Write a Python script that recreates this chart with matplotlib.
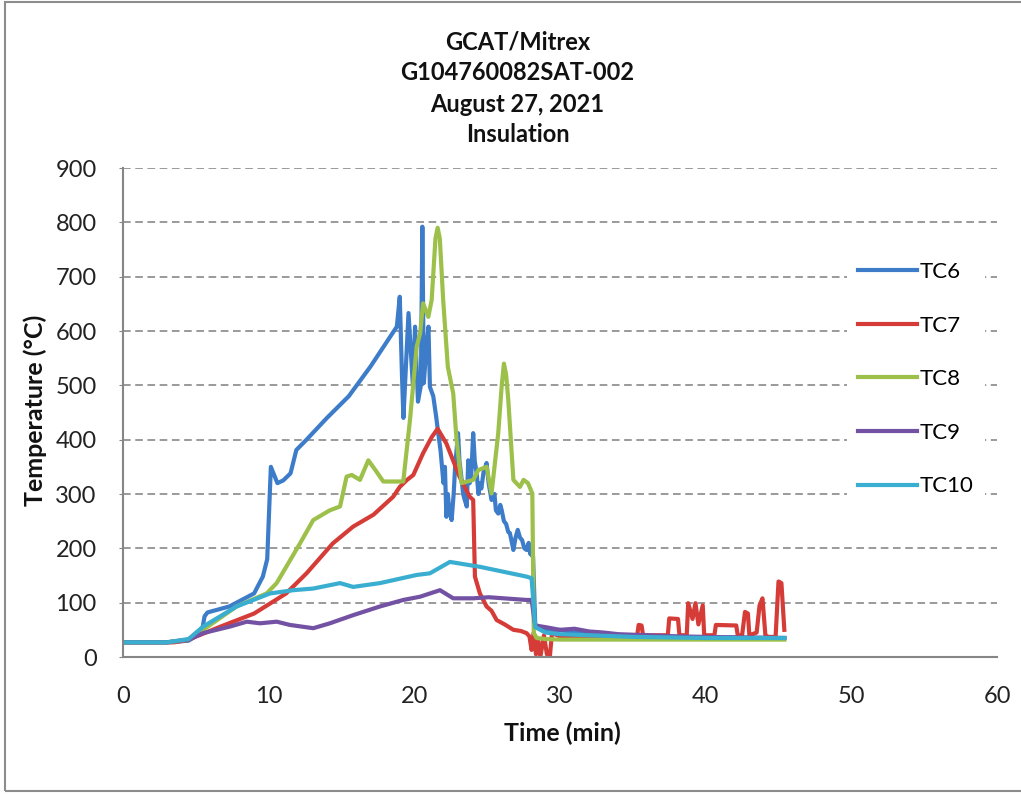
import matplotlib
matplotlib.use("Agg")
import matplotlib.pyplot as plt
from matplotlib.patches import Rectangle

plt.rcParams['font.family'] = ['Lato', 'DejaVu Sans']

# TC6
t6 = [0, 3, 4.5, 5.4, 5.6, 5.8, 7.3, 9.0, 9.6, 9.9, 10.15, 10.3, 10.6, 11.0, 11.5,
      11.9, 12.6, 14, 15.5, 17, 18.8, 19.0, 19.15, 19.25, 19.6, 19.9, 20.05, 20.25,
      20.45, 20.55, 20.65, 20.8, 20.97, 21.07, 21.3, 21.5, 21.65, 21.8, 22.0, 22.1,
      22.2, 22.3, 22.4, 22.56, 22.7, 22.8, 23.0, 23.1, 23.2, 23.35, 23.45, 23.6,
      23.7, 23.8, 23.9, 24.04, 24.15, 24.28, 24.4, 24.5, 24.6, 24.75, 24.96, 25.1,
      25.3, 25.5, 25.6, 25.76, 25.9, 26.0, 26.15, 26.3, 26.45, 26.56, 26.7, 26.8,
      26.95, 27.1, 27.25, 27.4, 27.55, 27.7, 27.85, 27.95, 28.15, 28.3, 28.5, 29,
      29.5, 30, 31, 32, 34, 36, 38, 40, 42, 44, 45.4]
T6 = [27, 27, 30, 45, 75, 82, 93, 117, 148, 180, 350, 340, 320, 325, 338,
      381, 400, 440, 480, 535, 608, 663, 520, 440, 633, 500, 608, 470,
      500, 792, 504, 560, 608, 497, 480, 442, 410, 380, 320, 350,
      258, 300, 270, 252, 300, 350, 412, 360, 338, 300, 290, 277,
      362, 320, 330, 412, 360, 338, 300, 320, 310, 340, 357, 320,
      289, 300, 270, 264, 280, 270, 250, 245, 230, 228, 210, 197,
      220, 234, 220, 215, 200, 197, 210, 190, 185, 60, 55, 50,
      48, 50, 45, 43, 40, 38, 37, 36, 36, 35, 35]

# TC7
t7 = [0, 3.5, 4.4, 6.7, 9.0, 11.2, 12.6, 14.4, 15.8, 17.2, 18.55, 19.0, 19.5, 19.93,
      20.6, 21.2, 21.6, 22.2, 23.1, 23.8, 24.04, 24.16, 24.5, 24.96, 25.3, 25.65,
      26.2, 26.8, 27.3, 27.7, 27.9, 28.05, 28.2, 28.35, 28.5, 28.65, 28.9, 29.1,
      29.3, 29.45, 30, 32, 34, 35.3, 35.4, 35.6, 35.7, 37.4, 37.5, 38.1, 38.2,
      38.7, 38.8, 39.1, 39.3, 39.5, 39.8, 39.9, 40.6, 40.7, 42.1, 42.2, 42.5,
      42.7, 42.9, 43.0, 43.5, 43.7, 43.9, 44.1, 44.3, 44.8, 45.0, 45.2, 45.4]
T7 = [27, 27, 31, 56, 80, 117, 154, 209, 240, 262, 295, 313, 326, 335,
      375, 405, 420, 393, 332, 295, 289, 148, 117, 93, 85, 68,
      60, 50, 48, 44, 38, 13, 45, 5, 30, 0, 40, 5,
      0, 44, 38, 37, 36, 40, 59, 58, 40, 40, 71, 70, 40,
      40, 99, 70, 99, 60, 95, 40, 40, 59, 58, 40, 40,
      83, 80, 40, 45, 95, 108, 40, 37, 37, 139, 136, 50]

# TC8
t8 = [0, 3, 4.5, 5.5, 7.8, 9.86, 10.55, 12.15, 13.06, 14.2, 14.9, 15.35, 15.7, 16.27,
      16.84, 17.3, 17.87, 19.24, 19.7, 20.16, 20.4, 20.6, 20.96, 21.19, 21.45, 21.6,
      21.75, 21.98, 22.3, 22.67, 22.9, 23.24, 24.04, 24.39, 24.96, 25.3, 25.76,
      26.0, 26.15, 26.3, 26.45, 26.8, 27.25, 27.5, 27.8, 28.1, 28.2, 28.4, 29,
      30, 35, 40, 45.4]
T8 = [27, 27, 32, 50, 93, 117, 136, 209, 252, 270, 277, 332, 335, 326,
      362, 345, 323, 323, 436, 571, 596, 651, 626, 657, 770, 790,
      770, 657, 534, 485, 399, 320, 326, 344, 350, 301, 412,
      500, 540, 520, 473, 326, 313, 326, 320, 301, 44, 35, 33,
      32, 32, 32, 32]

# TC9
t9 = [0, 3, 4.5, 5.5, 7.34, 8.5, 9.4, 10.55, 11.46, 13.06, 14.2, 15.8, 17.64, 19.24,
      20.4, 21.76, 22.67, 24.04, 25.1, 27.7, 28.05, 28.3, 29, 30, 31, 32, 33, 34,
      36, 38, 40, 42, 45.4]
T9 = [27, 27, 32, 44, 56, 65, 62, 65, 59, 53, 62, 77, 93, 105,
      111, 123, 108, 108, 110, 105, 105, 58, 55, 50, 52, 47, 45, 42,
      40, 38, 37, 36, 35]

# TC10
t10 = [0, 3, 4.5, 5.5, 7.8, 10.1, 11.7, 13.06, 14.9, 15.8, 17.64, 20.16, 21.07, 22.44,
       24.5, 27.7, 28.05, 28.3, 29, 30, 32, 35, 40, 45.4]
T10 = [27, 27, 33, 56, 93, 117, 123, 126, 136, 129, 136, 151, 154, 175,
       166, 148, 145, 55, 45, 42, 40, 37, 35, 35]

labels = ['TC6', 'TC7', 'TC8', 'TC9', 'TC10']
colors = ['#3d7cc9', '#d63c37', '#9cc04a', '#7452a3', '#3aaed0']
title_lines = ['GCAT/Mitrex', 'G104760082SAT-002', 'August 27, 2021', 'Insulation']

fig = plt.figure(figsize=(10.21, 7.94), dpi=100)
ax = fig.add_axes([123 / 1021, 1 - 657 / 794, 874 / 1021, 489 / 794])

series = [(t6, T6), (t7, T7), (t8, T8), (t9, T9), (t10, T10)]
for (t, T), lab, c in zip(series, labels, colors):
    ax.plot(t, T, color=c, lw=3, label=lab, solid_joinstyle='round')

ax.set_xlim(0, 60)
ax.set_ylim(0, 900)
ax.set_xticks(range(0, 61, 10))
ax.set_yticks(range(0, 901, 100))
ax.yaxis.grid(True, linestyle=(0, (5, 3)), color='#7f7f7f', lw=1.1)
ax.set_axisbelow(True)
for s in ['top', 'right']:
    ax.spines[s].set_visible(False)
for s in ['left', 'bottom']:
    ax.spines[s].set_color('#868686')
    ax.spines[s].set_linewidth(1.5)
ax.tick_params(axis='y', length=3, color='#868686', pad=16, labelsize=17, labelcolor='#222222')
ax.tick_params(axis='x', length=0, pad=21, labelsize=17, labelcolor='#222222')

leg = ax.legend(loc='upper left', bbox_to_anchor=(0.8155, 0.853), frameon=True,
                fancybox=False, edgecolor='none', facecolor='white', framealpha=1,
                fontsize=16, handlelength=2.66, handletextpad=0.12,
                labelspacing=1.51, borderpad=0.5)

for i, line in enumerate(title_lines):
    fig.text(0.507, 1 - (42 + 31 * i) / 794, line, ha='center', va='center',
             fontsize=17, fontweight='bold', color='#111111')

fig.text(35 / 1021, 1 - 410 / 794, 'Temperature (°C)', rotation=90, ha='center',
         va='center', fontsize=18, fontweight='bold', color='#111111')
fig.text(562 / 1021, 1 - 733 / 794, 'Time (min)', ha='center', va='center',
         fontsize=18, fontweight='bold', color='#111111')

# outer chart frame
fig.patches.append(Rectangle((5 / 1021, 3 / 794), 1.2, 789 / 794, transform=fig.transFigure,
                             fill=False, edgecolor='#8c8c8c', lw=1.5))

fig.savefig('out.png', dpi=100)
